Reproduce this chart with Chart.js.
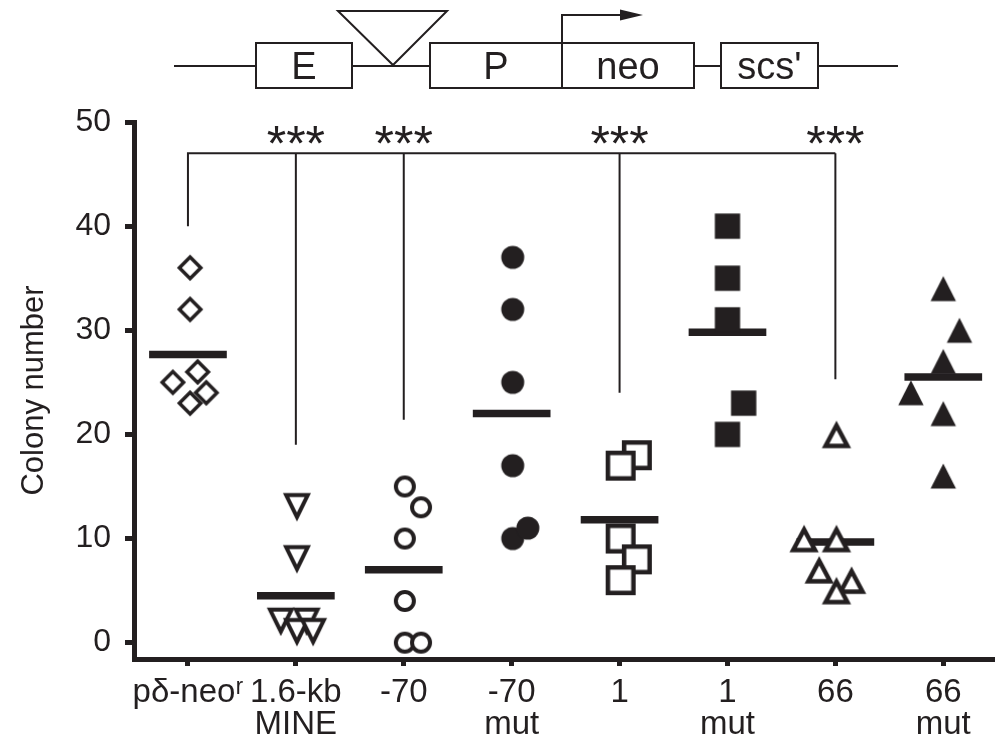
<!DOCTYPE html>
<html>
<head>
<meta charset="utf-8">
<script src="https://cdn.jsdelivr.net/npm/chart.js@4.4.0/dist/chart.umd.min.js"></script>
<style>
    html, body { margin: 0; padding: 0; background: #fff; }
</style>
</head>
<body>
<canvas id="chart" width="1005" height="746"></canvas>
<script>
// Constructs on the x axis (multi-line tick labels)
const categories = [
    'pδ-neoʳ', ['1.6-kb', 'MINE'], '-70', ['-70', 'mut'],
    '1', ['1', 'mut'], '66', ['66', 'mut']
];

// Colony counts, one array per construct
const pdNeoValues   = [36, 32, 25, 26, 24, 23];
const mineValues    = [13, 8, 2, 2, 1, 1];
const m70Values     = [15, 13, 10, 4, 0, 0];
const m70MutValues  = [37, 32, 25, 17, 10, 11];
const p1Values      = [18, 17, 10, 8, 6];
const p1MutValues   = [40, 35, 31, 23, 20];
const p66Values     = [20, 10, 10, 7, 6, 5];
const p66MutValues  = [34, 30, 27, 24, 22, 16];

// Horizontal scatter of the dots around each category (in category units)
const pdNeoJitter   = [0.02, 0.02, -0.14, 0.09, 0.17, 0.02];
const mineJitter    = [0.01, 0.01, -0.14, 0.1, 0.01, 0.16];
const m70Jitter     = [0.01, 0.16, 0.01, 0.01, 0.01, 0.16];
const m70MutJitter  = [0.01, 0.01, 0.01, 0.01, 0.01, 0.15];
const p1Jitter      = [0.16, 0.01, 0.01, 0.16, 0.01];
const p1MutJitter   = [0, 0, 0, 0.15, 0];
const p66Jitter     = [0.01, -0.29, 0.01, -0.15, 0.15, 0.01];
const p66MutJitter  = [0, 0.15, 0, -0.3, 0, 0];

const yTicks = [0, 10, 20, 30, 40, 50];

// Significance bracket: control (category 0) vs these categories
const sigTargets = [1, 2, 4, 6];
const sigDropEnd = [19, 21.4, 24, 25.3];
const refDropEnd = 40;
const bracketLevel = 47;

const INK = '#231f20';
const FONT = '"Liberation Sans", Arial, sans-serif';

const groupValues = [pdNeoValues, mineValues, m70Values, m70MutValues, p1Values, p1MutValues, p66Values, p66MutValues];
const groupJitter = [pdNeoJitter, mineJitter, m70Jitter, m70MutJitter, p1Jitter, p1MutJitter, p66Jitter, p66MutJitter];
const groupMarker = [
    ['diamond', false], ['triDown', false], ['circle', false], ['circle', true],
    ['square', false], ['square', true], ['triUp', false], ['triUp', true]
];

// Build a marker image for pointStyle
function makeMarker(shape, filled) {
    const S = 36;
    const c = document.createElement('canvas');
    c.width = S; c.height = S;
    const g = c.getContext('2d');
    const m = S / 2;
    let lw = 4;
    g.lineJoin = 'miter';
    g.strokeStyle = INK;
    g.fillStyle = filled ? INK : '#fff';
    g.beginPath();
    if (shape === 'diamond') {
        const r = 10.7; lw = 3.5;
        g.moveTo(m, m - r); g.lineTo(m + r, m); g.lineTo(m, m + r); g.lineTo(m - r, m);
    } else if (shape === 'circle') {
        const r = filled ? 11.5 : 9;
        g.arc(m, m, r, 0, Math.PI * 2);
    } else if (shape === 'square') {
        const h = filled ? 12.65 : 12.75; lw = 4.5;
        g.rect(m - h, m - h, 2 * h, 2 * h);
    } else if (shape === 'triUp') {
        const w = filled ? 12.7 : 10.9, h = filled ? 12.6 : 10.25;
        lw = 4.5;
        const dy = filled ? 0 : 1.3;
        g.moveTo(m, m - h + dy); g.lineTo(m + w, m + h + dy); g.lineTo(m - w, m + h + dy);
    } else if (shape === 'triDown') {
        const w = 10.8, h = 10.95, dy = -1.2;
        g.moveTo(m, m + h + dy); g.lineTo(m + w, m - h + dy); g.lineTo(m - w, m - h + dy);
    }
    g.closePath();
    g.fill();
    if (!filled) { g.lineWidth = lw; g.stroke(); }
    return c;
}

const pointSets = groupValues.map((vals, i) => ({
    type: 'scatter',
    data: vals.map((v, k) => ({ x: i + groupJitter[i][k], y: v })),
    pointStyle: makeMarker(groupMarker[i][0], groupMarker[i][1]),
    pointRadius: 10,
    order: 1
}));

const meanSets = groupValues.map((vals, i) => {
    const mean = vals.reduce((a, b) => a + b, 0) / vals.length;
    return {
        type: 'line',
        data: [{ x: i - 0.36, y: mean }, { x: i + 0.36, y: mean }],
        borderColor: INK,
        borderWidth: 7.5,
        pointRadius: 0,
        order: 2
    };
});

// Construct map at the top of the figure
function drawConstruct(ctx) {
    const yMid = 66, top = 43, bot = 88;
    ctx.lineWidth = 2;
    ctx.strokeStyle = INK;
    ctx.fillStyle = INK;
    ctx.beginPath();
    [[174, 256], [352, 430], [694, 721], [818, 898]].forEach(([a, b]) => {
        ctx.moveTo(a, yMid); ctx.lineTo(b, yMid);
    });
    ctx.stroke();
    const boxes = [[256, 352, 'E'], [430, 562, 'P'], [562, 694, 'neo'], [721, 818, "scs'"]];
    ctx.font = '38px ' + FONT;
    ctx.textAlign = 'center';
    ctx.textBaseline = 'alphabetic';
    boxes.forEach(([a, b, t]) => {
        ctx.strokeRect(a, top, b - a, bot - top);
        ctx.fillText(t, (a + b) / 2, 79);
    });
    // insertion triangle
    ctx.lineJoin = 'miter';
    ctx.beginPath();
    ctx.moveTo(338, 11); ctx.lineTo(447, 11); ctx.lineTo(393, 65); ctx.closePath();
    ctx.stroke();
    // transcription start arrow
    ctx.beginPath();
    ctx.moveTo(562, top); ctx.lineTo(562, 15); ctx.lineTo(622, 15);
    ctx.stroke();
    ctx.beginPath();
    ctx.moveTo(620, 9.5); ctx.lineTo(643, 15); ctx.lineTo(620, 20.5); ctx.closePath();
    ctx.fill();
}

const annotate = {
    id: 'annotate',
    afterDraw(chart) {
        const ctx = chart.ctx;
        const xs = chart.scales.x, ys = chart.scales.y;
        ctx.save();
        ctx.strokeStyle = INK;
        ctx.fillStyle = INK;
        ctx.lineWidth = 2;
        const yTop = ys.getPixelForValue(bracketLevel);
        const x0 = xs.getPixelForValue(0);
        const xEnd = xs.getPixelForValue(sigTargets[sigTargets.length - 1]);
        ctx.beginPath();
        ctx.moveTo(x0, ys.getPixelForValue(refDropEnd));
        ctx.lineTo(x0, yTop);
        ctx.lineTo(xEnd, yTop);
        sigTargets.forEach((c, i) => {
            const x = xs.getPixelForValue(c);
            ctx.moveTo(x, yTop);
            ctx.lineTo(x, ys.getPixelForValue(sigDropEnd[i]));
        });
        ctx.stroke();
        ctx.font = '50px ' + FONT;
        ctx.textAlign = 'center';
        ctx.textBaseline = 'alphabetic';
        sigTargets.forEach(c => ctx.fillText('***', xs.getPixelForValue(c), yTop + 8));
        drawConstruct(ctx);
        ctx.restore();
    }
};

Chart.defaults.font.family = FONT;
Chart.defaults.color = INK;

new Chart(document.getElementById('chart'), {
    type: 'scatter',
    data: { datasets: pointSets.concat(meanSets) },
    options: {
        responsive: false,
        animation: false,
        devicePixelRatio: 1,
        layout: { padding: { top: 122, left: 0, right: 0, bottom: 0 } },
        plugins: { legend: { display: false }, tooltip: { enabled: false } },
        scales: {
            x: {
                type: 'linear',
                min: -0.5,
                max: 7.47,
                afterBuildTicks: s => { s.ticks = categories.map((c, i) => ({ value: i })); },
                afterFit: s => { s.height = 87; },
                grid: { drawOnChartArea: false, tickLength: 7, tickWidth: 5, tickColor: INK },
                border: { display: true, width: 5, color: INK },
                ticks: {
                    color: INK,
                    padding: 11,
                    autoSkip: false,
                    maxRotation: 0,
                    font: { family: '"Liberation Sans Narrow", "Liberation Sans", Arial', size: 33, lineHeight: 0.97 },
                    callback: v => categories[v]
                }
            },
            y: {
                type: 'linear',
                min: -1.57,
                max: 50,
                afterBuildTicks: s => { s.ticks = yTicks.map(v => ({ value: v })); },
                afterFit: s => { s.width = 134; },
                grid: { drawOnChartArea: false, tickLength: 9, tickWidth: 5, tickColor: INK },
                border: { display: true, width: 5, color: INK },
                ticks: { color: INK, padding: 14, font: { size: 32 } },
                title: {
                    display: true,
                    text: 'Colony number',
                    color: INK,
                    font: { size: 31 },
                    padding: { top: 16, bottom: 0 }
                }
            }
        }
    },
    plugins: [annotate]
});
</script>
</body>
</html>
